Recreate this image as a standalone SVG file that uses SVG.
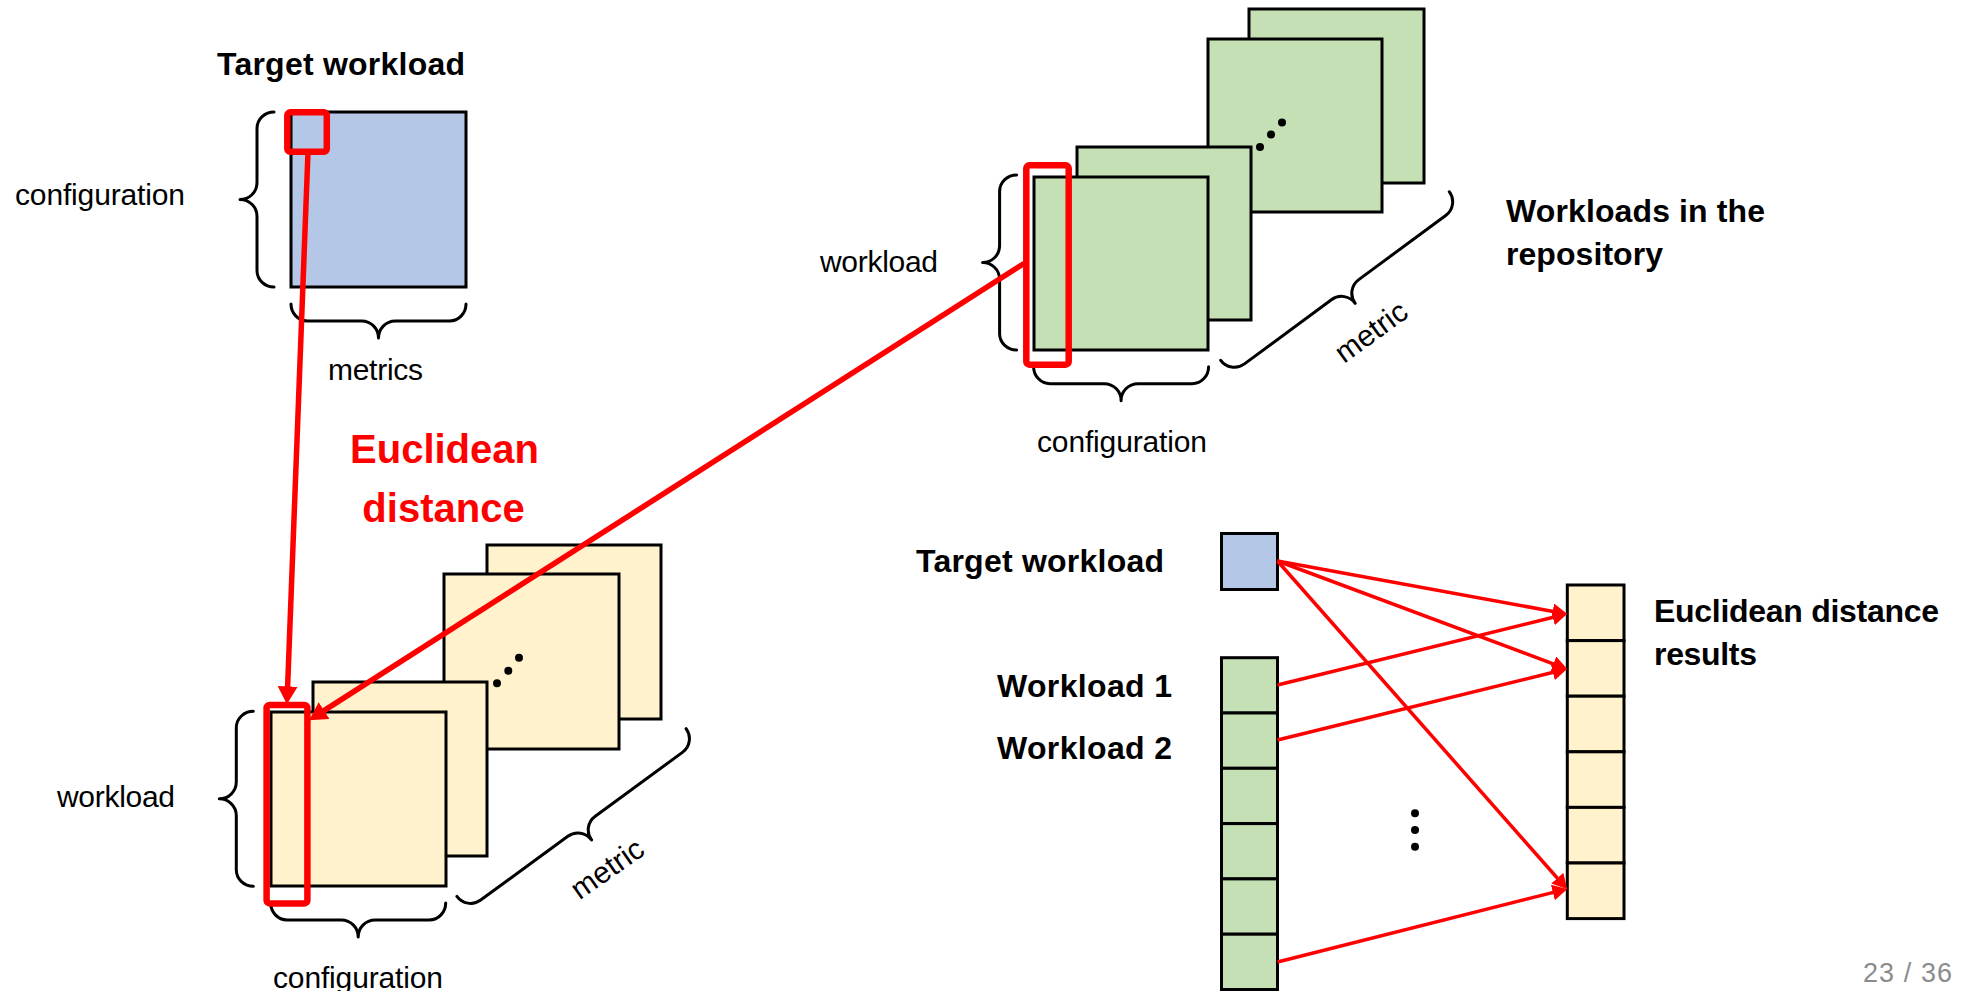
<svg xmlns="http://www.w3.org/2000/svg" xmlns:xlink="http://www.w3.org/1999/xlink" width="1968" height="991" viewBox="0 0 1968 991">
  <style>
    .bg { fill: #ffffff; }
    .sheet { stroke: #000000; stroke-width: 3; }
    .blue { fill: #B4C7E7; }
    .green { fill: #C5E0B4; }
    .yellow { fill: #FFF2CC; }
    .brace { fill: none; stroke: #000000; stroke-width: 3; stroke-linecap: round; stroke-linejoin: round; }
    .sel { fill: none; stroke: #FF0000; stroke-width: 6.5; }
    .link { fill: none; stroke: #FF0000; stroke-width: 5.5; }
    .thin { fill: none; stroke: #FF0000; stroke-width: 3.5; }
    .lbl { font-family: "Liberation Sans", Arial, sans-serif; font-size: 30px; fill: #000000; }
    .hd { font-family: "Liberation Sans", Arial, sans-serif; font-size: 32px; font-weight: bold; fill: #000000; }
    .red { font-family: "Liberation Sans", Arial, sans-serif; font-size: 40px; font-weight: bold; fill: #FF0000; }
    .page { font-family: "Liberation Sans", Arial, sans-serif; font-size: 27px; fill: #8C8C8C; }
    .dot { fill: #000000; }
  </style>
  <defs>
    <!-- curly brace, horizontal, tip pointing down; half length 87.5 -->
    <path id="brace175" d="M-87.5,0 C-87.5,9 -80.5,17 -71,17 L-17,17 C-7,17 0,25 0,34 C0,25 7,17 17,17 L71,17 C80.5,17 87.5,9 87.5,0"/>
    <!-- longer brace for the diagonal stack depth -->
    <path id="brace285" d="M-142,0 C-142,9 -135,17 -125,17 L-17,17 C-7,17 0,25 0,34 C0,25 7,17 17,17 L125,17 C135,17 142,9 142,0"/>
    <marker id="headBig" markerUnits="userSpaceOnUse" markerWidth="18" markerHeight="20" refX="0.5" refY="9" orient="auto" viewBox="0 0 16 18">
      <path d="M0,0 L16,9 L0,18 Z" fill="#FF0000"/>
    </marker>
    <marker id="headThin" markerUnits="userSpaceOnUse" markerWidth="15" markerHeight="16" refX="0.5" refY="7.5" orient="auto" viewBox="0 0 14 15">
      <path d="M0,0 L14,7.5 L0,15 Z" fill="#FF0000"/>
    </marker>
  </defs>

  <rect class="bg" x="0" y="0" width="1968" height="991"/>

  <!-- target workload matrix (top left) -->
  <g id="target-matrix">
    <text class="hd" x="217" y="75" textLength="248">Target workload</text>
    <rect class="sheet blue" x="291" y="112" width="175" height="175"/>
    <use href="#brace175" xlink:href="#brace175" class="brace" transform="translate(274,199.5) rotate(90)"/>
    <use href="#brace175" xlink:href="#brace175" class="brace" transform="translate(378.5,304)"/>
    <text class="lbl" x="15" y="205" textLength="170">configuration</text>
    <text class="lbl" x="328" y="380" textLength="95">metrics</text>
    <rect class="sel" x="287.3" y="112.3" width="39.5" height="39.5" rx="3"/>
  </g>

  <!-- repository workload stack (top right) -->
  <g id="repo-stack">
    <rect class="sheet green" x="1249" y="9" width="175" height="174"/>
    <rect class="sheet green" x="1208" y="39" width="174" height="173"/>
    <rect class="sheet green" x="1077" y="147" width="174" height="173"/>
    <rect class="sheet green" x="1034" y="177" width="174" height="173"/>
    <circle class="dot" cx="1260" cy="147" r="4"/>
    <circle class="dot" cx="1271" cy="134.5" r="4"/>
    <circle class="dot" cx="1282" cy="122.5" r="4"/>
    <use href="#brace175" xlink:href="#brace175" class="brace" transform="translate(1016.6,262.5) rotate(90)"/>
    <use href="#brace175" xlink:href="#brace175" class="brace" transform="translate(1121.1,366.7)"/>
    <use href="#brace285" xlink:href="#brace285" class="brace" transform="translate(1335,276) rotate(-36.4)"/>
    <text class="lbl" x="820" y="272" textLength="118">workload</text>
    <text class="lbl" x="1037" y="452" textLength="170">configuration</text>
    <text class="lbl" x="1377" y="340" text-anchor="middle" transform="rotate(-36 1377 340)">metric</text>
    <text class="hd" x="1506" y="222" textLength="259">Workloads in the</text>
    <text class="hd" x="1506" y="265" textLength="157">repository</text>
  </g>

  <!-- label for the distance computation -->
  <g id="distance-label">
    <text class="red" x="444.5" y="463" text-anchor="middle">Euclidean</text>
    <text class="red" x="443.5" y="522" text-anchor="middle">distance</text>
  </g>

  <!-- repository stack copy (bottom left) -->
  <g id="compare-stack">
    <rect class="sheet yellow" x="487" y="545" width="174" height="174"/>
    <rect class="sheet yellow" x="444" y="574" width="175" height="175"/>
    <rect class="sheet yellow" x="313" y="682" width="174" height="174"/>
    <rect class="sheet yellow" x="271" y="712" width="175" height="174"/>
    <circle class="dot" cx="497" cy="683.3" r="4"/>
    <circle class="dot" cx="508.3" cy="670.7" r="4"/>
    <circle class="dot" cx="519" cy="657.7" r="4"/>
    <use href="#brace175" xlink:href="#brace175" class="brace" transform="translate(253.3,798.8) rotate(90)"/>
    <use href="#brace175" xlink:href="#brace175" class="brace" transform="translate(358.2,903)"/>
    <use href="#brace285" xlink:href="#brace285" class="brace" transform="translate(571.5,812.5) rotate(-36.2)"/>
    <text class="lbl" x="57" y="807" textLength="118">workload</text>
    <text class="lbl" x="273" y="988" textLength="170">configuration</text>
    <text class="lbl" x="613" y="877" text-anchor="middle" transform="rotate(-35 613 877)">metric</text>
  </g>

  <!-- single target row (bottom right) -->
  <g id="target-row">
    <text class="hd" x="916" y="572" textLength="248">Target workload</text>
    <rect class="sheet blue" x="1221.5" y="533.5" width="56" height="56"/>
  </g>

  <!-- workload rows column -->
  <g id="workload-column">
    <text class="hd" x="997" y="697" textLength="175">Workload 1</text>
    <text class="hd" x="997" y="759" textLength="175">Workload 2</text>
    <rect class="sheet green" x="1221.5" y="657.7" width="56" height="55.3"/>
    <rect class="sheet green" x="1221.5" y="713" width="56" height="55.3"/>
    <rect class="sheet green" x="1221.5" y="768.3" width="56" height="55.3"/>
    <rect class="sheet green" x="1221.5" y="823.6" width="56" height="55.3"/>
    <rect class="sheet green" x="1221.5" y="878.9" width="56" height="55.3"/>
    <rect class="sheet green" x="1221.5" y="934.2" width="56" height="55.3"/>
    <circle class="dot" cx="1415" cy="813.3" r="4"/>
    <circle class="dot" cx="1415" cy="830" r="4"/>
    <circle class="dot" cx="1415" cy="846.7" r="4"/>
  </g>

  <!-- distance result column -->
  <g id="result-column">
    <rect class="sheet yellow" x="1567.3" y="585" width="56.7" height="55.6"/>
    <rect class="sheet yellow" x="1567.3" y="640.6" width="56.7" height="55.6"/>
    <rect class="sheet yellow" x="1567.3" y="696.2" width="56.7" height="55.6"/>
    <rect class="sheet yellow" x="1567.3" y="751.8" width="56.7" height="55.6"/>
    <rect class="sheet yellow" x="1567.3" y="807.4" width="56.7" height="55.6"/>
    <rect class="sheet yellow" x="1567.3" y="863" width="56.7" height="55.6"/>
    <text class="hd" x="1654" y="622" textLength="285">Euclidean distance</text>
    <text class="hd" x="1654" y="665" textLength="103">results</text>
  </g>

  <!-- connectors -->
  <g id="connectors">
    <line class="link" x1="308" y1="152" x2="287.6" y2="687" marker-end="url(#headBig)"/>
    <line class="link" x1="1024" y1="263.5" x2="323.6" y2="710.9" marker-end="url(#headBig)"/>
    <line class="thin" x1="1277.5" y1="561" x2="1553.2" y2="611.5" marker-end="url(#headThin)"/>
    <line class="thin" x1="1277.5" y1="561" x2="1553.9" y2="664.1" marker-end="url(#headThin)"/>
    <line class="thin" x1="1277.5" y1="561" x2="1557.7" y2="878.5" marker-end="url(#headThin)"/>
    <line class="thin" x1="1277.5" y1="685" x2="1553.4" y2="617.3" marker-end="url(#headThin)"/>
    <line class="thin" x1="1277.5" y1="740" x2="1553.4" y2="672.3" marker-end="url(#headThin)"/>
    <line class="thin" x1="1277.5" y1="962" x2="1553.4" y2="892.4" marker-end="url(#headThin)"/>
  </g>

  <!-- selections drawn over the stacks -->
  <g id="selection-repo">
    <rect class="sel" x="1026.3" y="165.3" width="42.4" height="199.4" rx="3"/>
  </g>
  <g id="selection-compare">
    <rect class="sel" x="266.6" y="705" width="40.8" height="198.4" rx="3"/>
  </g>

  <text class="page" x="1863" y="982" textLength="89">23 / 36</text>
</svg>
